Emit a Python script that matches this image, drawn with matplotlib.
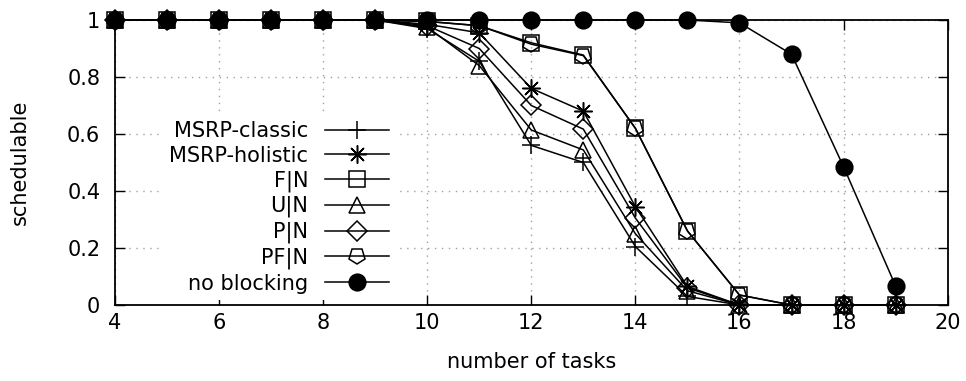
import matplotlib
matplotlib.use('Agg')
import matplotlib.pyplot as plt
from matplotlib.markers import MarkerStyle
from matplotlib.transforms import Affine2D

# schedulability ratio per task-set size
tasks = [4, 5, 6, 7, 8, 9, 10, 11, 12, 13, 14, 15, 16, 17, 18, 19]
msrp_classic = [1, 1, 1, 1, 1, 1, 0.97, 0.855, 0.56, 0.50, 0.205, 0.03, 0, 0, 0, 0]
msrp_holistic = [1, 1, 1, 1, 1, 1, 0.985, 0.955, 0.76, 0.68, 0.345, 0.065, 0, 0, 0, 0]
f_n = [1, 1, 1, 1, 1, 1, 0.995, 0.98, 0.92, 0.877, 0.62, 0.26, 0.035, 0, 0, 0]
u_n = [1, 1, 1, 1, 1, 1, 0.975, 0.84, 0.614, 0.544, 0.25, 0.05, 0, 0, 0, 0]
p_n = [1, 1, 1, 1, 1, 1, 0.98, 0.90, 0.70, 0.617, 0.305, 0.06, 0, 0, 0, 0]
pf_n = [1, 1, 1, 1, 1, 1, 0.995, 0.98, 0.915, 0.875, 0.62, 0.26, 0.035, 0, 0, 0]
no_blocking = [1, 1, 1, 1, 1, 1, 1, 1, 1, 1, 1, 1, 0.99, 0.88, 0.485, 0.067]

pent_down = MarkerStyle('p', transform=Affine2D().rotate_deg(180))

series = [
    ('MSRP-classic', msrp_classic, '+', 13, 'none'),
    ('MSRP-holistic', msrp_holistic, (8, 2, 0), 13, 'none'),
    ('F|N', f_n, 's', 12, 'none'),
    ('U|N', u_n, '^', 12, 'none'),
    ('P|N', p_n, 'D', 10.5, 'none'),
    ('PF|N', pf_n, pent_down, 12, 'none'),
    ('no blocking', no_blocking, 'o', 12, 'black'),
]

plt.rcParams['font.family'] = 'DejaVu Sans'
plt.rcParams['font.size'] = 15

fig = plt.figure(figsize=(9.66, 3.81), dpi=100)
ax = fig.add_axes([0.119, 0.1995, 0.862, 0.748])

for label, vals, mk, ms, fc in series:
    ax.plot(tasks, vals, color='black', lw=1.1, marker=mk, markersize=ms,
            markerfacecolor=fc, markeredgecolor='black', markeredgewidth=1.1,
            label=label, clip_on=False)

ax.set_xlim(4, 20)
ax.set_ylim(0, 1)
ax.set_xticks(range(4, 21, 2))
ax.set_yticks([0, 0.2, 0.4, 0.6, 0.8, 1])
ax.set_yticklabels(['0', '0.2', '0.4', '0.6', '0.8', '1'])
ax.tick_params(direction='in', length=7, width=1, top=True, right=True)
ax.tick_params(axis='y', pad=10.5)
ax.tick_params(axis='x', pad=5.5)
ax.grid(True, color='#a0a0a0', linestyle=(0, (1, 4)), linewidth=1)
ax.set_axisbelow(True)
for sp in ax.spines.values():
    sp.set_linewidth(1.3)

ax.set_xlabel('number of tasks', labelpad=14)
ax.set_ylabel('schedulable', labelpad=27)

leg = ax.legend(loc='lower right', bbox_to_anchor=(0.337, 0.018), markerfirst=False,
                frameon=True, framealpha=1, facecolor='white', edgecolor='none',
                fancybox=False, handlelength=3.1, handletextpad=0.8,
                labelspacing=0.21, borderpad=0.3, borderaxespad=0)
for col in leg._legend_handle_box.get_children():
    col.align = 'right'
leg.set_zorder(1.5)

fig.savefig('out.png', dpi=100)
